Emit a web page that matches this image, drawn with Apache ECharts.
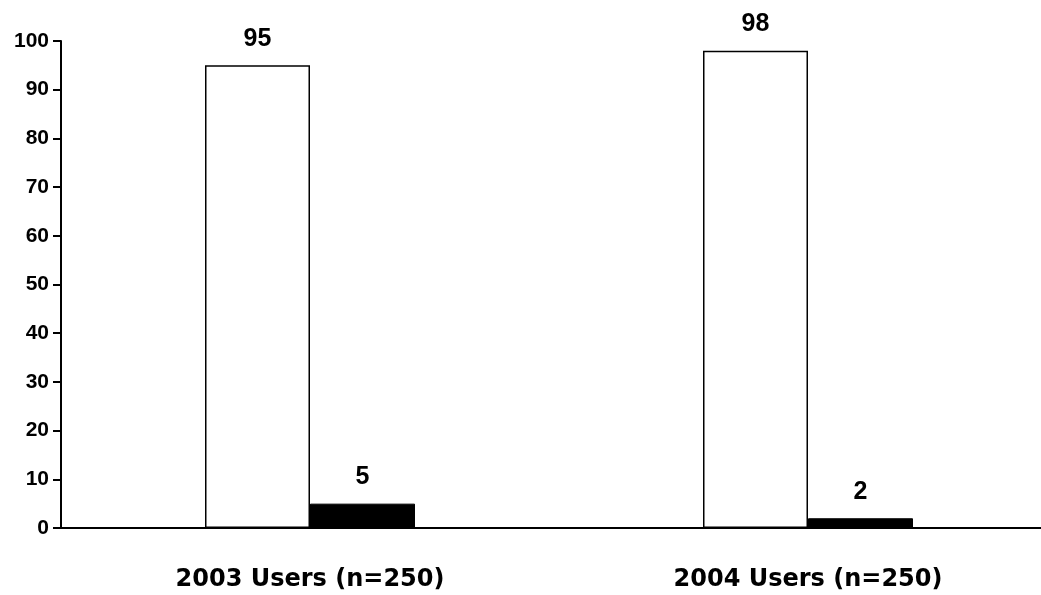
<!DOCTYPE html>
<html><head><meta charset="utf-8">
<script src="https://cdn.jsdelivr.net/npm/echarts@6/dist/echarts.min.js"></script>
<style>html,body{margin:0;padding:0;background:#fff;overflow:hidden;width:1041px;height:595px}#c{width:1060px;height:595px}</style>
</head><body><div id="c"></div>
<script>
const categories = ['2003 Users (n=250)', '2004 Users (n=250)'];
const seriesA = [95, 98];
const seriesB = [5, 2];
const yTicks = { min: 0, max: 100, interval: 10 };

const chart = echarts.init(document.getElementById('c'), null, { renderer: 'canvas' });
const valueLabel = {
  show: true, position: 'top', distance: 14,
  fontFamily: 'Liberation Sans, Arial, sans-serif', fontWeight: 'bold', fontSize: 25, color: '#000'
};
chart.setOption({
  animation: false,
  backgroundColor: '#fff',
  grid: { left: 61, right: 3, top: 41, bottom: 67, containLabel: false },
  xAxis: {
    type: 'category', data: categories,
    axisLine: { lineStyle: { color: '#000', width: 2 } },
    axisTick: { show: false },
    axisLabel: { margin: 40, color: '#000', fontFamily: 'DejaVu Sans, Verdana, sans-serif', fontWeight: 'bold', fontSize: 24 }
  },
  yAxis: {
    type: 'value', min: yTicks.min, max: yTicks.max, interval: yTicks.interval,
    splitLine: { show: false },
    axisLine: { show: true, lineStyle: { color: '#000', width: 2 } },
    axisTick: { show: true, length: 8, lineStyle: { color: '#000', width: 2 } },
    axisLabel: { margin: 12, color: '#000', fontFamily: 'Liberation Sans, Arial, sans-serif', fontWeight: 'bold', fontSize: 21 }
  },
  series: [
    { type: 'bar', data: seriesA, barWidth: 105, barGap: '0%',
      itemStyle: { color: '#fff', borderColor: '#000', borderWidth: 1.5 }, label: valueLabel },
    { type: 'bar', data: seriesB, barWidth: 105, barGap: '0%',
      itemStyle: { color: '#000', borderColor: '#000', borderWidth: 1 }, label: valueLabel }
  ]
});
</script></body></html>
